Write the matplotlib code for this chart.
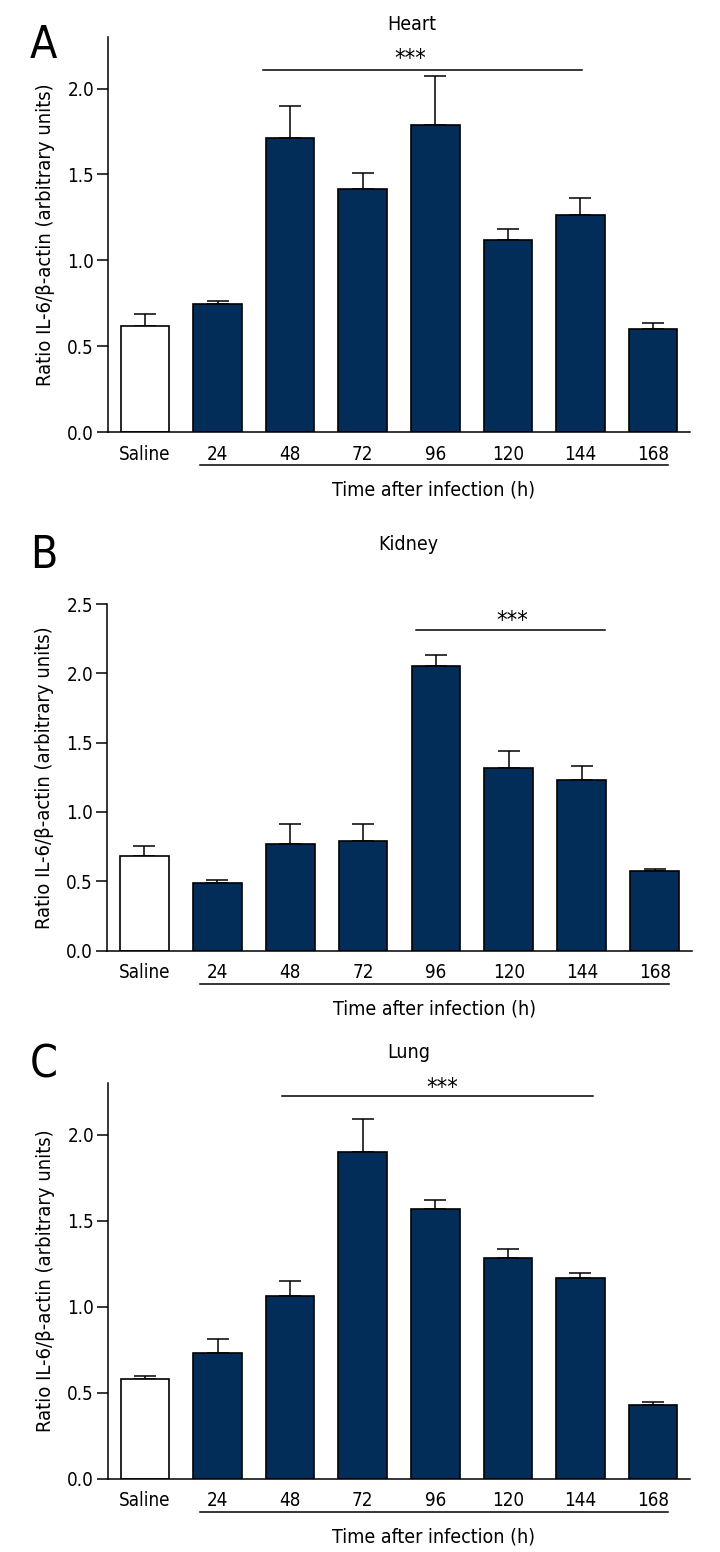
import matplotlib
matplotlib.use("Agg")
import matplotlib.pyplot as plt
import matplotlib.transforms as mtransforms
import numpy as np

plt.rcParams['font.family'] = ['Liberation Sans Narrow', 'DejaVu Sans']
plt.rcParams['font.stretch'] = 'condensed'

categories = ["Saline", "24", "48", "72", "96", "120", "144", "168"]

heart_vals = [0.62, 0.745, 1.71, 1.415, 1.79, 1.12, 1.265, 0.60]
heart_err = [0.07, 0.02, 0.19, 0.095, 0.28, 0.06, 0.10, 0.035]

kidney_vals = [0.685, 0.49, 0.77, 0.79, 2.05, 1.32, 1.23, 0.57]
kidney_err = [0.07, 0.018, 0.145, 0.125, 0.085, 0.12, 0.10, 0.02]

lung_vals = [0.578, 0.733, 1.06, 1.897, 1.566, 1.284, 1.17, 0.429]
lung_err = [0.021, 0.079, 0.088, 0.193, 0.052, 0.05, 0.029, 0.018]

titles = ["Heart", "Kidney", "Lung"]
letters = ["A", "B", "C"]
ylims = [2.3, 2.5, 2.3]
sig_spans = [(1.63, 6.02), (3.72, 6.32), (1.89, 6.17)]
sig_y = [2.11, 2.31, 2.225]
star_x = [3.66, 5.04, 4.09]
star_y = [2.17, 2.38, 2.27]

W, H = 720, 1552
fig = plt.figure(figsize=(W / 100, H / 100), dpi=100)

# axes boxes in pixels: left, right, top, bottom
boxes = [(108, 690, 37, 432), (107, 692, 604, 950.5), (108, 690, 1083, 1479)]
title_y = [25, 544, 1052]
title_x = [412, 408, 409]
letter_y = [45, 555, 1065]

navy = "#022d59"
datasets = [(heart_vals, heart_err), (kidney_vals, kidney_err), (lung_vals, lung_err)]

for i, ((vals, errs), (l, r, t, b)) in enumerate(zip(datasets, boxes)):
    ax = fig.add_axes([l / W, 1 - b / H, (r - l) / W, (b - t) / H])
    x = np.arange(len(categories))
    colors = ["white"] + [navy] * (len(categories) - 1)
    ax.bar(x, vals, width=0.67, color=colors, edgecolor="black", linewidth=1.2, zorder=2)
    ax.errorbar(x, vals, yerr=[np.zeros(len(vals)), errs], fmt="none", ecolor="black",
                elinewidth=1.1, capsize=8, capthick=1.1, zorder=1)
    ax.set_xlim(-0.51, len(categories) - 0.49)
    ax.set_ylim(0, ylims[i])
    ax.set_yticks(np.arange(0, ylims[i] + 0.01, 0.5))
    ax.set_yticklabels([f"{v:.1f}" for v in np.arange(0, ylims[i] + 0.01, 0.5)])
    ax.set_xticks(x)
    ax.set_xticklabels(categories)
    ax.tick_params(axis="x", length=0, pad=9, labelsize=13.5)
    ax.tick_params(axis="y", length=8, width=1.1, direction="out", pad=2, labelsize=13.5)
    for s in ["top", "right"]:
        ax.spines[s].set_visible(False)
    for s in ["left", "bottom"]:
        ax.spines[s].set_linewidth(1.1)
    ax.text(-0.108 * (582 / (r - l)), 0.5, "Ratio IL-6/β-actin (arbitrary units)",
            transform=ax.transAxes, rotation=90, ha="center", va="center", fontsize=14.5)

    # significance line
    ax.plot(sig_spans[i], [sig_y[i], sig_y[i]], color="black", lw=1.1, clip_on=False)
    ax.text(star_x[i], star_y[i], "***", ha="center", va="center", fontsize=17)

    # underline for time points
    tr = mtransforms.offset_copy(ax.get_xaxis_transform(), fig=fig, y=-33, units="dots")
    ax.plot([0.76, 7.2], [0, 0], color="black", lw=1.1, transform=tr, clip_on=False)
    tr2 = mtransforms.offset_copy(ax.get_xaxis_transform(), fig=fig, y=-58, units="dots")
    ax.text(3.98, 0, "Time after infection (h)", transform=tr2, ha="center", va="center",
            fontsize=14)

    fig.text(title_x[i] / W, 1 - title_y[i] / H, titles[i], ha="center", va="center", fontsize=14)
    fig.text(30 / W, 1 - letter_y[i] / H, letters[i], ha="left", va="center", fontsize=32)

fig.savefig("out.png", dpi=100)
